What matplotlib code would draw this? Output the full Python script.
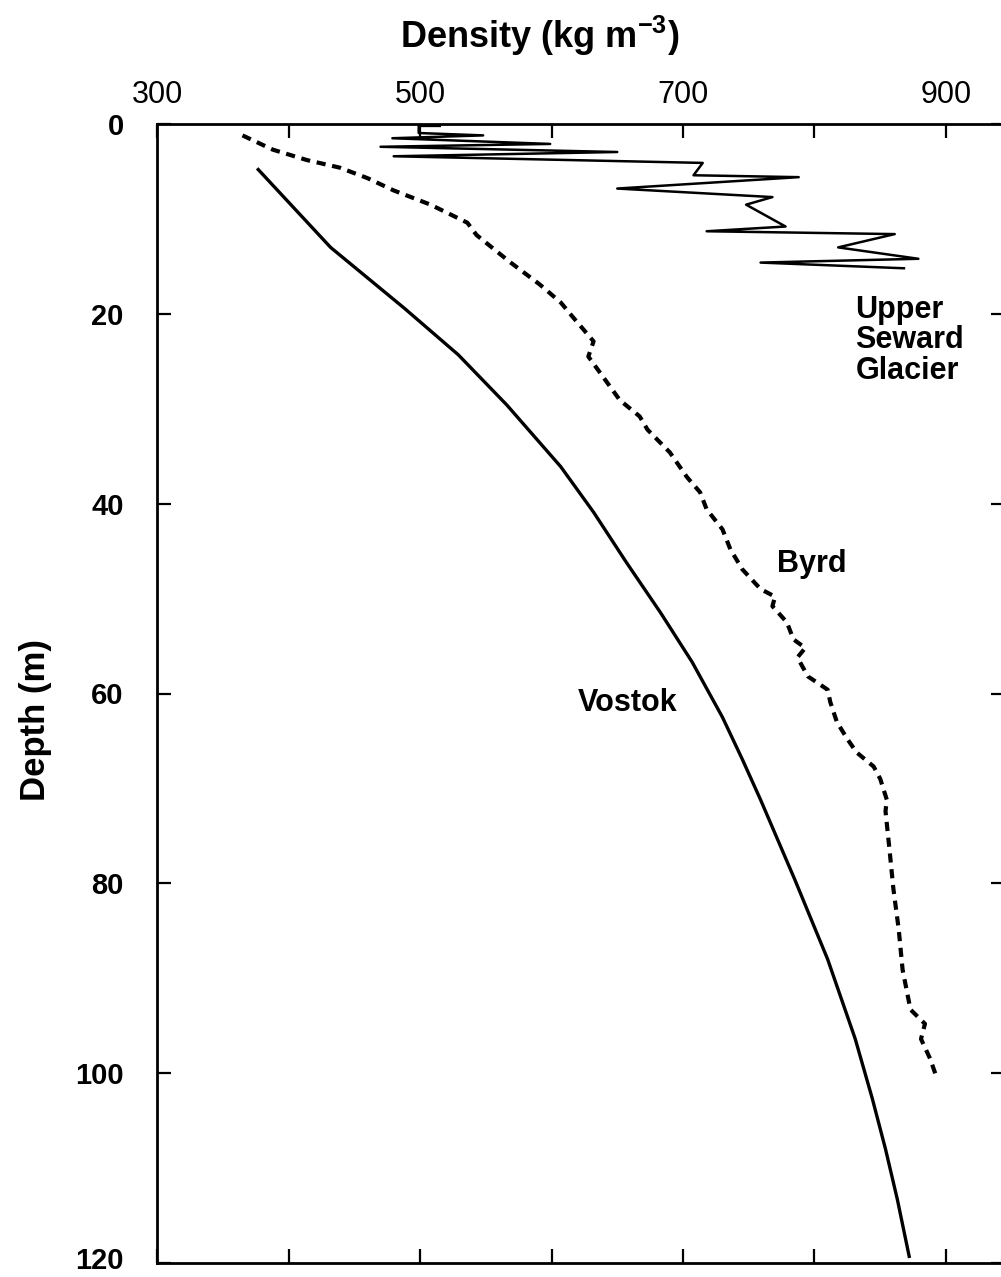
import numpy as np
import matplotlib
matplotlib.use("Agg")
import matplotlib.pyplot as plt
import matplotlib.transforms as mtransforms
from matplotlib.ticker import FixedLocator, FuncFormatter

# --------------------------------------------------------------
# Data
# --------------------------------------------------------------

# Upper Seward Glacier (thin zig-zag trace)
seward_density = [515, 499, 499, 548, 479, 599, 470, 650, 480, 715, 708, 788,
                  650, 768, 748, 778, 718, 861, 818, 879, 759, 868]
seward_depth = [0.2, 0.2, 0.95, 1.2, 1.5, 2.1, 2.4, 2.95, 3.4, 4.1, 5.4, 5.6,
                6.8, 7.7, 8.5, 10.8, 11.3, 11.6, 13.0, 14.2, 14.6, 15.2]

# Byrd (dashed)
byrd_density = [365, 388, 414, 439, 460, 480, 508, 536, 543, 568, 591, 607,
                616, 632, 628, 639, 652, 667, 673, 690, 703, 713, 718, 730,
                736, 745, 759, 770, 768, 779, 784, 793, 787, 795, 810, 812,
                817, 825, 832, 845, 850, 855, 854, 857, 860, 864, 867, 873,
                884, 881, 888, 892]
byrd_depth = [1.2, 2.7, 3.8, 4.6, 5.7, 7.0, 8.5, 10.4, 11.7, 14.5, 16.9, 18.8,
              20.3, 22.9, 24.5, 26.6, 29.1, 30.8, 32.2, 34.6, 37.2, 38.8, 40.6, 42.7,
              44.8, 46.9, 49.0, 49.8, 50.8, 52.5, 54.3, 55.2, 56.2, 58.2, 59.6, 60.9,
              63.0, 64.8, 66.2, 67.7, 69.0, 71.2, 72.4, 76.4, 80.6, 84.8, 89.1, 93.3,
              94.8, 96.4, 98.5, 100.1]

# Vostok (solid)
vostok_density = [377, 432, 488, 529, 566, 607, 632, 657, 683, 707, 730, 745,
                  759, 785, 810, 831, 844, 854, 863, 872]
vostok_depth = [4.8, 13.0, 19.4, 24.3, 29.6, 36.1, 40.9, 46.2, 51.5, 56.7, 62.5, 66.9,
                71.2, 79.6, 88.0, 96.4, 102.7, 108.0, 113.3, 119.3]

x_ticks = [300, 400, 500, 600, 700, 800, 900]
x_labels = {300: "300", 500: "500", 700: "700", 900: "900"}
y_ticks = [0, 20, 40, 60, 80, 100, 120]

# --------------------------------------------------------------
# Figure
# --------------------------------------------------------------
plt.rcParams["font.family"] = ["Liberation Sans", "DejaVu Sans"]
plt.rcParams["mathtext.fontset"] = "custom"
plt.rcParams["mathtext.rm"] = "Liberation Sans"
plt.rcParams["mathtext.bf"] = "Liberation Sans:bold"

W, H = 1001, 1277
fig = plt.figure(figsize=(W / 100, H / 100), dpi=100)

# axes box in pixels: left spine 157, right spine just off the image, top 124, bottom 1263
left, right, top, bottom = 157, 1005, 124, 1263
ax = fig.add_axes([left / W, 1 - bottom / H, (right - left) / W, (bottom - top) / H])

ax.plot(seward_density, seward_depth, color="black", lw=1.8)
ax.plot(byrd_density, byrd_depth, color="black", lw=3.0, ls=(0, (2.2, 1.6)))
ax.plot(vostok_density, vostok_depth, color="black", lw=2.4)

ax.set_xlim(300, 300 + (right - left) / 1.315)
ax.set_ylim(120, 0)

# --------------------------------------------------------------
# Ticks and spines
# --------------------------------------------------------------
for s in ax.spines.values():
    s.set_linewidth(2.0)

ax.xaxis.set_major_locator(FixedLocator(x_ticks))
ax.xaxis.set_major_formatter(FuncFormatter(lambda v, p: x_labels.get(int(round(v)), "")))
ax.yaxis.set_major_locator(FixedLocator(y_ticks))
ax.tick_params(axis="x", which="major", direction="in", length=10, width=1.6,
               top=True, bottom=True, labeltop=True, labelbottom=False,
               labelsize=22, pad=10)
ax.tick_params(axis="y", which="major", direction="in", length=10, width=1.6,
               left=True, right=True, labelleft=True, labelright=False,
               labelsize=21, pad=24)
ylabs = ax.get_yticklabels()
for lab in ylabs:
    lab.set_fontweight("bold")
    lab.set_verticalalignment("center_baseline")

# keep the bottom "120" inside the picture
last = ylabs[-1]
last.set_verticalalignment("bottom")
last.set_transform(last.get_transform() +
                   mtransforms.ScaledTranslation(0, -12 / 100, fig.dpi_scale_trans))

# --------------------------------------------------------------
# Labels
# --------------------------------------------------------------
fig.text(540 / W, 1 - 36 / H, r"Density (kg m$^{\mathbf{-3}}$)", ha="center", va="center",
         fontsize=26, fontweight="bold")
fig.text(35 / W, 1 - 720 / H, "Depth (m)", ha="center", va="center", rotation=90,
         fontsize=25, fontweight="bold")

ax.text(831, 18.0, "Upper\nSeward\nGlacier", ha="left", va="top", fontsize=22,
        fontweight="bold", linespacing=1.02)
ax.text(798, 46.4, "Byrd", ha="center", va="center", fontsize=22, fontweight="bold")
ax.text(658, 61.0, "Vostok", ha="center", va="center", fontsize=22, fontweight="bold")

fig.savefig("out.png", dpi=100)
